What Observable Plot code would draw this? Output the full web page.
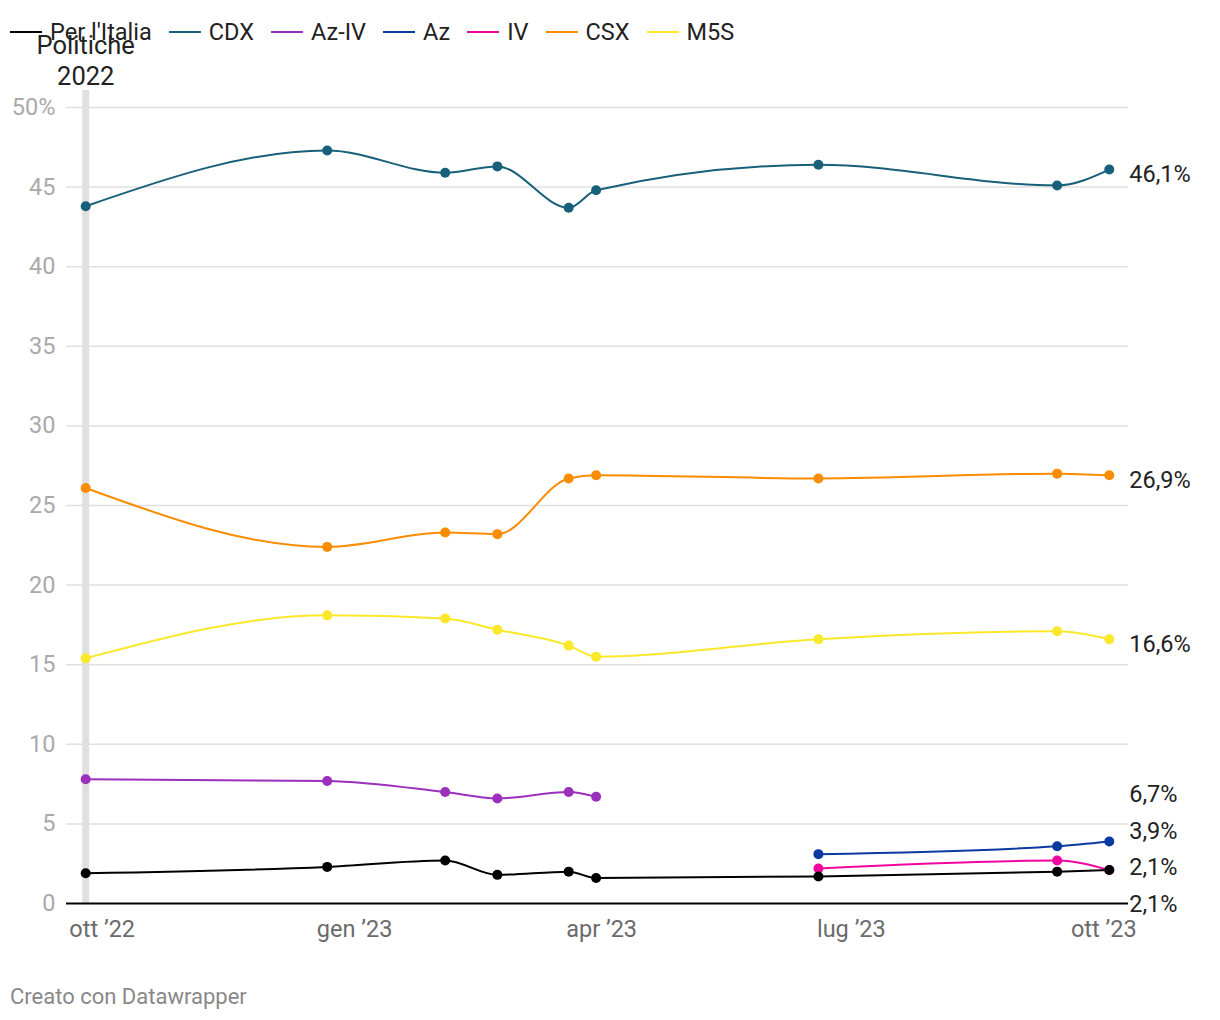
<!DOCTYPE html>
<html>
<head>
<meta charset="utf-8">
<script src="https://cdn.jsdelivr.net/npm/d3@7"></script>
<script src="https://cdn.jsdelivr.net/npm/@observablehq/plot@0.6"></script>
<style>
  html, body { margin: 0; padding: 0; background: #fff; font-family: Roboto, "Noto Sans", sans-serif; }
  #wrap { position: relative; width: 1220px; }
  #legend { position: absolute; left: 10px; top: 18px; display: flex; align-items: center; font-size: 23.5px; color: #222; z-index: 2; white-space: nowrap; }
  .item { display: flex; align-items: center; margin-right: 17px; line-height: 28px; }
  .sw { width: 32px; height: 2px; margin-right: 8px; }
  #chart svg { display: block; overflow: visible; }
  #footer { margin-top: 30px; padding-left: 10px; font-size: 22px; line-height: 24px; color: #888; }
</style>
</head>
<body>
<div id="wrap">
  <div id="legend"></div>
  <div id="chart"></div>
  <div id="footer">Creato con Datawrapper</div>
</div>
<script>
// ---- data ----
const pollDates = ["2022-09-25","2022-12-22","2023-02-03","2023-02-22","2023-03-20","2023-03-30","2023-06-19","2023-09-14","2023-10-03"];
const seriesNames = ["Per l'Italia","CDX","Az-IV","Az","IV","CSX","M5S"];
const perItalia = [1.9, 2.3, 2.7, 1.8, 2.0, 1.6, 1.7, 2.0, 2.1];
const cdx       = [43.8, 47.3, 45.9, 46.3, 43.7, 44.8, 46.4, 45.1, 46.1];
const azIv      = [7.8, 7.7, 7.0, 6.6, 7.0, 6.7, null, null, null];
const az        = [null, null, null, null, null, null, 3.1, 3.6, 3.9];
const iv        = [null, null, null, null, null, null, 2.2, 2.7, 2.1];
const csx       = [26.1, 22.4, 23.3, 23.2, 26.7, 26.9, 26.7, 27.0, 26.9];
const m5s       = [15.4, 18.1, 17.9, 17.2, 16.2, 15.5, 16.6, 17.1, 16.6];
const electionDate = "2022-09-25";
const electionLabel = "Politiche\n2022";
const xTickDates = ["2022-10-01","2023-01-01","2023-04-01","2023-07-01","2023-10-01"];
const monthNames = ["gen","feb","mar","apr","mag","giu","lug","ago","set","ott","nov","dic"];
const yTicks = [0, 5, 10, 15, 20, 25, 30, 35, 40, 45, 50];

// ---- styles ----
const seriesColors = ["#000000","#18607a","#9b30bd","#0a3aa0","#f0069e","#fa8c00","#fae82a"];

// ---- build table ----
const seriesValues = [perItalia, cdx, azIv, az, iv, csx, m5s];
const rows = [];
seriesNames.forEach((name, si) => {
  seriesValues[si].forEach((v, i) => {
    if (v != null) rows.push({series: name, order: si, date: new Date(pollDates[i]), value: v});
  });
});
// draw first legend entries on top
rows.sort((a, b) => b.order - a.order);

const lastDate = new Date(pollDates[pollDates.length - 1]);
const fmtPct = v => String(v.toFixed(1)).replace(".", ",") + "%";

// end labels, dodged apart
let labels = seriesNames.map((name, si) => {
  const vals = seriesValues[si].filter(v => v != null);
  const v = vals[vals.length - 1];
  return {series: name, value: v, text: fmtPct(v)};
});
function dodge(items, gap) {
  const sorted = items.slice().sort((a, b) => a.value - b.value);
  let clusters = sorted.map(d => ({members: [d]}));
  const center = c => d3.mean(c.members, d => d.value);
  let changed = true;
  while (changed) {
    changed = false;
    for (let i = 1; i < clusters.length; i++) {
      const a = clusters[i - 1], b = clusters[i];
      const aTop = center(a) + (a.members.length - 1) / 2 * gap;
      const bBot = center(b) - (b.members.length - 1) / 2 * gap;
      if (bBot - aTop < gap) {
        clusters.splice(i - 1, 2, {members: a.members.concat(b.members)});
        changed = true;
        break;
      }
    }
  }
  clusters.forEach(c => {
    const m = center(c), n = c.members.length;
    c.members.forEach((d, k) => { d.labelY = m + (k - (n - 1) / 2) * gap; });
  });
  return sorted;
}
labels = dodge(labels, 2.3);

// ---- legend ----
const legend = document.getElementById("legend");
seriesNames.forEach((name, i) => {
  const it = document.createElement("div");
  it.className = "item";
  const sw = document.createElement("span");
  sw.className = "sw";
  sw.style.background = seriesColors[i];
  const tx = document.createElement("span");
  tx.textContent = name;
  it.appendChild(sw); it.appendChild(tx);
  legend.appendChild(it);
});

// ---- chart ----
const chart = Plot.plot({
  width: 1220,
  height: 955,
  marginLeft: 66,
  marginRight: 92,
  marginTop: 107,
  marginBottom: 52,
  style: {fontFamily: "Roboto, 'Noto Sans', sans-serif", background: "transparent"},
  x: {type: "utc", domain: [new Date("2022-09-18"), new Date("2023-10-10")]},
  y: {domain: [0, 50]},
  color: {domain: seriesNames, range: seriesColors},
  marks: [
    Plot.ruleY(yTicks.filter(d => d !== 0), {stroke: "#e0e0e0", strokeWidth: 1.5}),
    Plot.ruleX([new Date(electionDate)], {stroke: "#e0e0e0", strokeWidth: 7, insetTop: -17}),
    Plot.text([electionLabel], {
      x: () => new Date(electionDate), frameAnchor: "top", text: d => d,
      lineAnchor: "bottom", dy: -23, fontSize: 25.5, lineHeight: 1.18, fill: "#222", textAnchor: "middle"
    }),
    Plot.ruleY([0], {stroke: "#000", strokeWidth: 2}),
    Plot.axisY({ticks: yTicks, tickSize: 0, tickPadding: 11, fontSize: 23.5, fill: "#aaa",
      tickFormat: d => d === 50 ? "50%" : String(d), label: null}),
    Plot.axisX({ticks: xTickDates.map(d => new Date(d)), tickSize: 0, tickPadding: 17, fontSize: 23.5, fill: "#6b6b6b",
      tickFormat: d => `${monthNames[d.getUTCMonth()]} \u2019${String(d.getUTCFullYear()).slice(2)}`, label: null}),
    Plot.line(rows, {x: "date", y: "value", z: "series", stroke: "series", strokeWidth: 2, curve: "monotone-x"}),
    Plot.dot(rows, {x: "date", y: "value", fill: "series", r: 5}),
    Plot.text(labels, {x: () => lastDate, y: "labelY", text: "text", dx: 20, dy: 5, textAnchor: "start", fontSize: 23.5, fill: "#222"})
  ]
});
document.getElementById("chart").appendChild(chart);
</script>
</body>
</html>
